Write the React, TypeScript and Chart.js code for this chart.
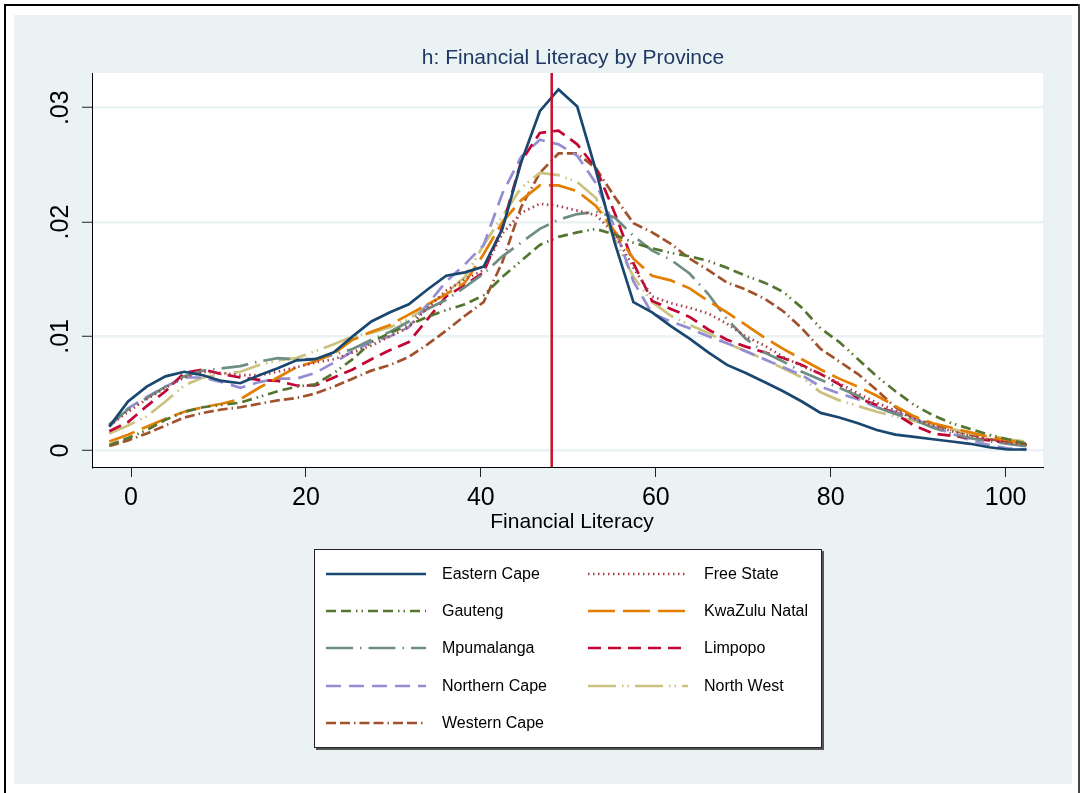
import React, { useEffect, useRef } from "react";
import { Chart, registerables } from "chart.js";

Chart.register(...registerables);

// ---------- DATA ----------
const xGrid = [
  -2.48, -0.34, 1.8, 3.94, 6.08, 8.22, 10.36, 12.5, 14.64, 16.78,
  18.92, 21.06, 23.2, 25.34, 27.48, 29.62, 31.76, 33.9, 36.04, 38.18,
  40.32, 42.46, 44.6, 46.74, 48.88, 51.02, 53.16, 55.3, 57.44, 59.58,
  61.72, 63.86, 66.0, 68.14, 70.28, 72.42, 74.56, 76.7, 78.84, 80.98,
  83.12, 85.26, 87.4, 89.54, 91.68, 93.82, 95.96, 98.1, 100.24, 102.38,
];

const easternCape = [
  0.0021, 0.0043, 0.0056, 0.0065, 0.0069, 0.0066, 0.0061, 0.0059, 0.0066, 0.0072,
  0.0079, 0.008, 0.0086, 0.01, 0.0113, 0.0121, 0.0128, 0.0141, 0.0153, 0.0156,
  0.0161, 0.0194, 0.0252, 0.0297, 0.0316, 0.0301, 0.0245, 0.0182, 0.013, 0.0121,
  0.0109, 0.0098, 0.0086, 0.0075, 0.0068, 0.006, 0.0052, 0.0043, 0.0033, 0.0029,
  0.0024, 0.0018, 0.0014, 0.0012, 0.001, 0.0008, 0.0006, 0.0003, 0.0001, 0.0001,
];
const freeState = [
  0.0022, 0.0034, 0.0045, 0.0055, 0.0064, 0.0069, 0.0068, 0.0066, 0.0066, 0.0069,
  0.0073, 0.0077, 0.008, 0.0086, 0.0092, 0.01, 0.0108, 0.0125, 0.014, 0.015,
  0.0158, 0.019, 0.0208, 0.0216, 0.0214, 0.021, 0.0206, 0.019, 0.016, 0.0135,
  0.0129, 0.0125, 0.012, 0.0111, 0.01, 0.0092, 0.0082, 0.0074, 0.0067, 0.0059,
  0.005, 0.0042, 0.0035, 0.0028, 0.0022, 0.0017, 0.0013, 0.001, 0.0007, 0.0005,
];
const gauteng = [
  0.0005, 0.0011, 0.0018, 0.0027, 0.0034, 0.0038, 0.004, 0.0042, 0.0047, 0.0052,
  0.0056, 0.0058, 0.0068, 0.008, 0.0095, 0.0103, 0.011, 0.0117, 0.0123, 0.0128,
  0.0136, 0.0152, 0.0166, 0.018, 0.0187, 0.0191, 0.0194, 0.0189, 0.0182, 0.0177,
  0.0173, 0.017, 0.0166, 0.016, 0.0153, 0.0147, 0.0139, 0.0125, 0.0107, 0.0095,
  0.008, 0.0065, 0.0052, 0.004, 0.0031, 0.0024, 0.0019, 0.0014, 0.001, 0.0006,
];
const kwaZuluNatal = [
  0.0008, 0.0014, 0.0021, 0.0028, 0.0034, 0.0038, 0.0041, 0.0045, 0.0055, 0.0064,
  0.0073, 0.0078, 0.0085, 0.0097, 0.0104, 0.011, 0.0119, 0.0128, 0.0137, 0.0147,
  0.0172, 0.02, 0.0219, 0.0232, 0.0232, 0.0227, 0.0214, 0.0192, 0.0168, 0.0153,
  0.0149, 0.0142, 0.0131, 0.0121, 0.011, 0.0099, 0.0089, 0.008, 0.0071, 0.0063,
  0.0056, 0.0048, 0.0039, 0.003, 0.0024, 0.002, 0.0016, 0.0012, 0.0009, 0.0006,
];
const mpumalanga = [
  0.0023, 0.0036, 0.0046, 0.0056, 0.0065, 0.007, 0.0072, 0.0074, 0.0078, 0.0081,
  0.008, 0.008, 0.0084, 0.0089, 0.0097, 0.0104, 0.0113, 0.0124, 0.0132, 0.0143,
  0.0155, 0.017, 0.0182, 0.0194, 0.0202, 0.0207, 0.0209, 0.0204, 0.0188, 0.0175,
  0.0167, 0.0155, 0.0137, 0.0115, 0.0098, 0.0086, 0.0078, 0.0069, 0.0062, 0.0055,
  0.0048, 0.0038, 0.0032, 0.0027, 0.002, 0.0015, 0.0011, 0.0008, 0.0006, 0.0004,
];
const limpopo = [
  0.0017, 0.0025, 0.0039, 0.0052, 0.0068, 0.0071, 0.0067, 0.0064, 0.0062, 0.0061,
  0.0057, 0.0057, 0.0064, 0.0071, 0.008, 0.0088, 0.0095, 0.0115, 0.0135, 0.0145,
  0.0156, 0.0196, 0.0253, 0.0278, 0.028, 0.0268, 0.0247, 0.0208, 0.0164, 0.0131,
  0.0124, 0.0117, 0.0106, 0.0097, 0.0091, 0.0086, 0.0081, 0.0075, 0.0067, 0.0058,
  0.0046, 0.004, 0.0032, 0.0022, 0.0015, 0.0013, 0.0011, 0.0009, 0.0007, 0.0005,
];
const northernCape = [
  0.0021, 0.0037, 0.0047, 0.0056, 0.0064, 0.0064, 0.006, 0.0055, 0.006, 0.0063,
  0.0063, 0.0068, 0.0077, 0.0087, 0.0095, 0.01, 0.0108, 0.0128, 0.0148, 0.0163,
  0.018, 0.0225, 0.0257, 0.0272, 0.0268, 0.0258, 0.0234, 0.0195, 0.0148, 0.012,
  0.0113, 0.0107, 0.01, 0.0094, 0.0087, 0.008, 0.0073, 0.0066, 0.0056, 0.005,
  0.0045, 0.0038, 0.0034, 0.0028, 0.0021, 0.0015, 0.0009, 0.0005, 0.0002, 0.0001,
];
const northWest = [
  0.0015, 0.0022, 0.003, 0.0043, 0.0057, 0.0064, 0.0067, 0.0069, 0.0075, 0.0079,
  0.0081, 0.0087, 0.0093, 0.01, 0.0103, 0.0108, 0.0115, 0.0127, 0.0138, 0.0152,
  0.018, 0.0205, 0.023, 0.0243, 0.0241, 0.0235, 0.0221, 0.0185, 0.0152, 0.013,
  0.0118, 0.011, 0.0103, 0.0094, 0.0087, 0.008, 0.0072, 0.0064, 0.0051, 0.0044,
  0.0039, 0.0034, 0.003, 0.0026, 0.0022, 0.0019, 0.0015, 0.0013, 0.001, 0.0008,
];
const westernCape = [
  0.0004, 0.0009, 0.0015, 0.0022, 0.0029, 0.0033, 0.0036, 0.0038, 0.0041, 0.0044,
  0.0046, 0.005, 0.0056, 0.0063, 0.007, 0.0075, 0.0082, 0.0093, 0.0105, 0.0118,
  0.013, 0.0165, 0.0213, 0.0243, 0.026, 0.026, 0.0247, 0.0222, 0.0199, 0.0191,
  0.0181, 0.0168, 0.0158, 0.0147, 0.0141, 0.0133, 0.0122, 0.0107, 0.0089, 0.0078,
  0.0067, 0.0053, 0.0038, 0.0028, 0.0023, 0.0018, 0.0014, 0.001, 0.0008, 0.0005,
];

const seriesNames = [
  "Eastern Cape", "Free State", "Gauteng", "KwaZulu Natal", "Mpumalanga",
  "Limpopo", "Northern Cape", "North West", "Western Cape",
];
const seriesValues = [
  easternCape, freeState, gauteng, kwaZuluNatal, mpumalanga,
  limpopo, northernCape, northWest, westernCape,
];
const seriesColors = [
  "#1a476f", "#a8404c", "#55752f", "#e37e00", "#6e8e84",
  "#c10534", "#938dd2", "#cac27e", "#a0522d",
];
const seriesDashes: number[][] = [
  [], [1.5, 3.5], [10, 5, 10, 5, 1.5, 4, 1.5, 5], [27, 8], [27, 7, 1.5, 7],
  [13, 7], [15, 8], [28, 6, 1.5, 4, 1.5, 6], [10, 4, 10, 4, 1.5, 4],
];

const xTickValues = [0, 20, 40, 60, 80, 100];
const yTickValues = [0, 0.01, 0.02, 0.03];
const yTickLabels = ["0", ".01", ".02", ".03"];
const referenceLine = 48.1;

const titleText = "h: Financial Literacy by Province";
const xAxisTitle = "Financial Literacy";

// ---------- CHART ----------
const W = 1081;
const H = 793;
const FONT = "'Liberation Sans', Arial, Helvetica, sans-serif";
const BG = "#EAF2F3";

const decorPlugin = {
  id: "decor",
  beforeDraw(chart: any) {
    const { ctx, chartArea: a } = chart;
    ctx.save();
    ctx.fillStyle = "#ffffff";
    ctx.fillRect(0, 0, W, H);
    ctx.fillStyle = BG;
    ctx.fillRect(14, 15, 1058, 769);
    ctx.fillStyle = "#ffffff";
    ctx.fillRect(a.left, a.top, a.right - a.left, a.bottom - a.top);
    ctx.fillStyle = "#000";
    ctx.fillRect(4, 4, 1076, 2);
    ctx.fillRect(4, 4, 2, H - 4);
    ctx.fillStyle = "#444";
    ctx.fillRect(1078, 4, 2, H - 4);
    ctx.restore();
  },
  afterDraw(chart: any) {
    const { ctx } = chart;
    const yScale = chart.scales.y;
    ctx.save();
    // title
    ctx.fillStyle = "#1f3864";
    ctx.font = `21px ${FONT}`;
    ctx.textAlign = "center";
    ctx.textBaseline = "middle";
    ctx.fillText(titleText, 573, 58);
    // x axis title
    ctx.fillStyle = "#000";
    ctx.fillText(xAxisTitle, 572, 522);
    // y tick labels (rotated)
    ctx.font = `25px ${FONT}`;
    yTickValues.forEach((v, i) => {
      const py = yScale.getPixelForValue(v);
      ctx.save();
      ctx.translate(61, py);
      ctx.rotate(-Math.PI / 2);
      ctx.textAlign = "center";
      ctx.textBaseline = "middle";
      ctx.fillText(yTickLabels[i], 0, 0);
      ctx.restore();
    });
    // legend box
    const bx = 314, by = 549, bw = 508, bh = 199;
    ctx.fillStyle = "#555";
    ctx.fillRect(bx + 2, by + 2, bw, bh);
    ctx.fillStyle = "#fff";
    ctx.fillRect(bx, by, bw, bh);
    ctx.strokeStyle = "#222";
    ctx.lineWidth = 1;
    ctx.strokeRect(bx + 0.5, by + 0.5, bw - 1, bh - 1);
    const rowY = [574, 611, 648, 686, 723];
    const colX = [326, 588];
    const colT = [442, 704];
    ctx.font = `16px ${FONT}`;
    ctx.textAlign = "left";
    ctx.textBaseline = "middle";
    seriesNames.forEach((name, i) => {
      const r = Math.floor(i / 2);
      const c = i % 2;
      const y = rowY[r];
      ctx.beginPath();
      ctx.setLineDash(seriesDashes[i]);
      ctx.strokeStyle = seriesColors[i];
      ctx.lineWidth = 2.7;
      ctx.moveTo(colX[c], y);
      ctx.lineTo(colX[c] + 100, y);
      ctx.stroke();
      ctx.setLineDash([]);
      ctx.fillStyle = "#000";
      ctx.fillText(name, colT[c], y + 1);
    });
    ctx.restore();
  },
};

export default function App() {
  const ref = useRef<HTMLCanvasElement | null>(null);

  useEffect(() => {
    if (!ref.current) return;
    Chart.defaults.font.family = FONT;

    const datasets: any[] = seriesNames.map((name, i) => ({
      label: name,
      data: xGrid.map((x, j) => ({ x, y: seriesValues[i][j] })),
      borderColor: seriesColors[i],
      borderDash: seriesDashes[i],
      borderWidth: 2.7,
      pointRadius: 0,
      tension: 0,
      fill: false,
      order: i + 1,
    }));
    datasets.push({
      label: "xline",
      data: [
        { x: referenceLine, y: -1 },
        { x: referenceLine, y: 1 },
      ],
      borderColor: "#c8102e",
      borderWidth: 2.5,
      pointRadius: 0,
      fill: false,
      order: 0,
      clip: 0,
    });

    const chart = new Chart(ref.current, {
      type: "line",
      data: { datasets },
      options: {
        animation: false,
        responsive: false,
        devicePixelRatio: 1,
        layout: { padding: { top: 73, left: 0, right: 38, bottom: 793 - 467 - 40 } },
        plugins: {
          legend: { display: false },
          title: { display: false },
          tooltip: { enabled: false },
        },
        scales: {
          x: {
            type: "linear",
            min: -4.46,
            max: 104.27,
            afterBuildTicks: (s: any) => {
              s.ticks = xTickValues.map((v) => ({ value: v }));
            },
            afterFit: (s: any) => {
              s.height = 40;
            },
            grid: {
              drawOnChartArea: false,
              drawTicks: true,
              tickLength: 10,
              tickColor: "#222",
              tickWidth: 1,
            },
            border: { display: true, color: "#000", width: 1 },
            ticks: {
              font: { size: 25, family: FONT },
              color: "#000",
              padding: 6,
              maxRotation: 0,
              minRotation: 0,
              autoSkip: false,
              callback: (v: any) => String(v),
            },
          },
          y: {
            type: "linear",
            min: -0.00143,
            max: 0.03304,
            afterBuildTicks: (s: any) => {
              s.ticks = yTickValues.map((v) => ({ value: v }));
            },
            afterFit: (s: any) => {
              s.width = 92;
            },
            grid: {
              color: BG,
              lineWidth: 2.5,
              drawTicks: true,
              tickLength: 10,
              tickColor: "#222",
              tickWidth: 1,
            },
            border: { display: true, color: "#000", width: 1 },
            ticks: { display: false },
          },
        },
      },
      plugins: [decorPlugin],
    } as any);

    return () => chart.destroy();
  }, []);

  return (
    <div style={{ position: "fixed", left: 0, top: 0, width: W, height: H }}>
      <canvas ref={ref} width={W} height={H} style={{ display: "block" }} />
    </div>
  );
}
